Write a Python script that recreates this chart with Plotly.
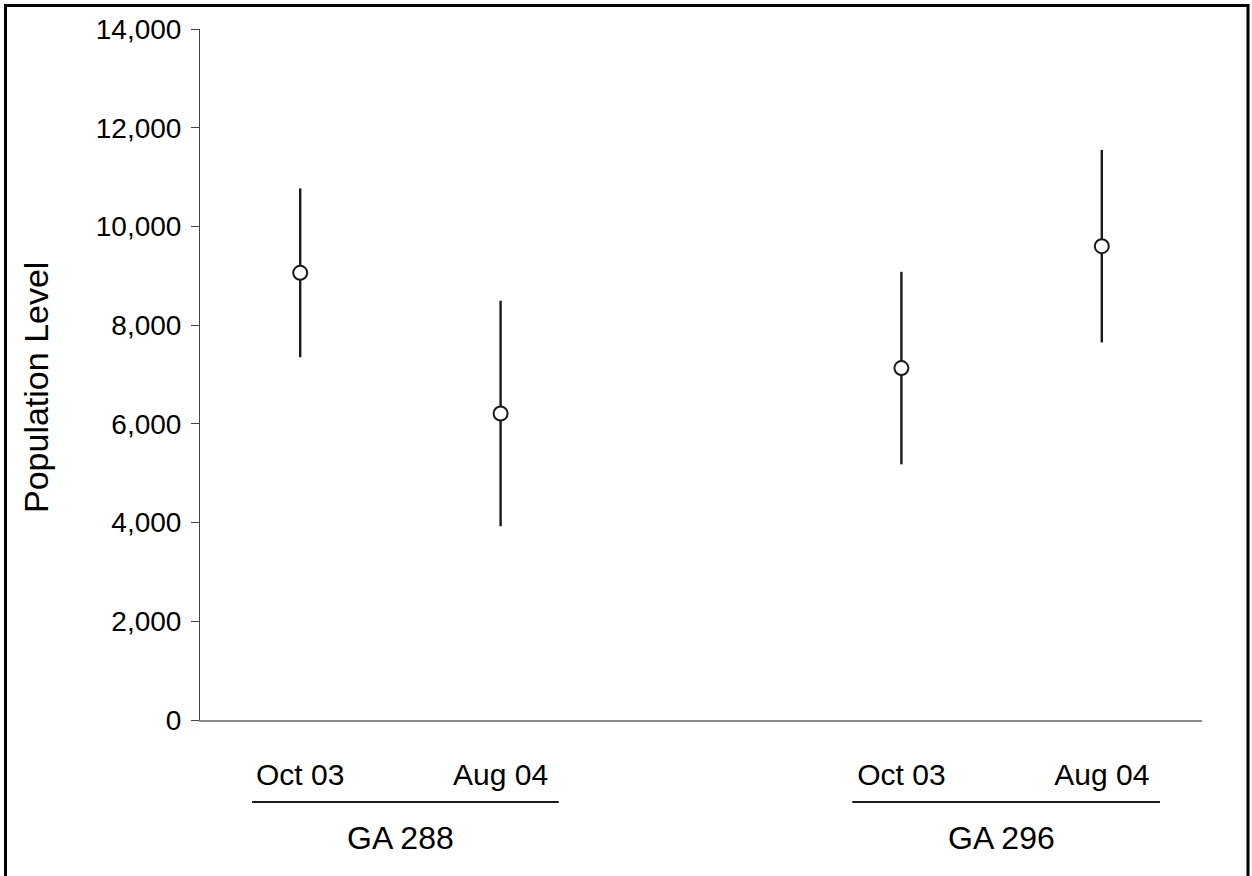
import plotly.graph_objects as go

# Population estimates with error ranges for two sites and two survey dates
sites = ["GA 288", "GA 288", "GA 296", "GA 296"]
surveys = ["Oct 03", "Aug 04", "Oct 03", "Aug 04"]
positions = [1, 3, 7, 9]
population = [9060, 6210, 7130, 9600]
error_half = [1710, 2285, 1950, 1950]

group_labels = ["GA 288", "GA 296"]
group_centers = [2, 8]
group_spans = [(0.52, 3.58), (6.51, 9.58)]

W, H = 1252, 876
ML, MR, MT, MB = 200, 50, 29, 156
plot_w = W - ML - MR
plot_h = H - MT - MB


def px_x(p):
    return (p - ML) / plot_w


def px_y(p):
    return (H - MB - p) / plot_h


FONT = "Liberation Sans, Arial, sans-serif"

fig = go.Figure()
fig.add_trace(go.Scatter(
    x=positions,
    y=population,
    mode="markers",
    marker=dict(symbol="circle", size=14, color="white",
                line=dict(color="#1a1a1a", width=2)),
    error_y=dict(type="data", array=error_half, visible=True,
                 color="#1a1a1a", thickness=2.4, width=0),
    showlegend=False,
    hoverinfo="skip",
))

shapes = []
# outer frame
shapes.append(dict(type="rect", xref="paper", yref="paper",
                   x0=px_x(5.5), x1=px_x(1248), y0=px_y(5.5), y1=px_y(900),
                   line=dict(color="black", width=3), fillcolor="rgba(0,0,0,0)",
                   layer="above"))
annotations = []
for label, cx, (a, b) in zip(group_labels, group_centers, group_spans):
    shapes.append(dict(type="line", xref="x", yref="paper",
                       x0=a, x1=b, y0=px_y(802), y1=px_y(802),
                       line=dict(color="#1a1a1a", width=2)))
    annotations.append(dict(x=cx, y=px_y(838), xref="x", yref="paper",
                            text=label, showarrow=False,
                            xanchor="center", yanchor="middle",
                            font=dict(family=FONT, size=32, color="black")))

annotations.append(dict(x=px_x(36), y=px_y(388), xref="paper", yref="paper",
                        text="Population Level", textangle=-90, showarrow=False,
                        xanchor="center", yanchor="middle",
                        font=dict(family=FONT, size=34, color="black")))

fig.update_layout(
    width=W, height=H,
    margin=dict(l=ML, r=MR, t=MT, b=MB),
    paper_bgcolor="white",
    plot_bgcolor="white",
    shapes=shapes,
    annotations=annotations,
    xaxis=dict(
        range=[0, 10],
        tickvals=positions,
        ticktext=surveys,
        ticks="",
        showgrid=False,
        zeroline=False,
        showline=True,
        linecolor="#8a8a8a",
        linewidth=2,
        ticklabelstandoff=27,
        tickfont=dict(family=FONT, size=30, color="black"),
        fixedrange=True,
    ),
    yaxis=dict(
        range=[0, 14000],
        tickvals=[0, 2000, 4000, 6000, 8000, 10000, 12000, 14000],
        ticktext=["0", "2,000", "4,000", "6,000", "8,000", "10,000", "12,000", "14,000"],
        ticks="outside",
        ticklen=8,
        tickwidth=1,
        tickcolor="#444444",
        showgrid=False,
        zeroline=False,
        showline=True,
        linecolor="#444444",
        linewidth=1,
        ticklabelstandoff=4,
        tickfont=dict(family=FONT, size=28, color="black"),
        fixedrange=True,
    ),
)

fig.write_html("out.html")
